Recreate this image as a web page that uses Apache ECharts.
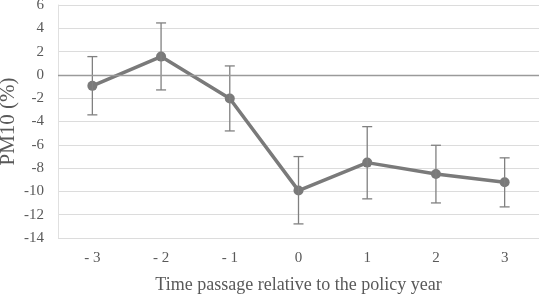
<!DOCTYPE html>
<html>
<head>
<meta charset="utf-8">
<script src="https://cdn.jsdelivr.net/npm/echarts@6/dist/echarts.min.js"></script>
<style>
  html, body { margin: 0; padding: 0; background: #fff; }
  #chart { width: 540px; height: 294px; }
</style>
</head>
<body>
<div id="chart"></div>
<script>
// categories (years relative to policy)
const years = ['- 3', '- 2', '- 1', '0', '1', '2', '3']
// mean change in PM10 (%)
const pm10 = [-0.94, 1.57, -2.03, -9.93, -7.53, -8.5, -9.21]
// error bar ends
const upper = [1.57, 4.46, 0.77, -7.01, -4.44, -6.04, -7.12]
const lower = [-3.43, -1.29, -4.81, -12.79, -10.64, -10.99, -11.33]

const gray = '#7a7a7a'
const textColor = '#595959'
const font = 'Liberation Serif'

const chart = echarts.init(document.getElementById('chart'))
chart.setOption({
  animation: false,
  grid: { left: 58, right: 1, top: 5, bottom: 56, outerBoundsMode: 'none' },
  xAxis: {
    type: 'category',
    data: years,
    name: 'Time passage relative to the policy year',
    nameLocation: 'middle',
    nameGap: 38,
    nameMoveOverlap: false,
    nameTextStyle: { fontFamily: font, fontSize: 18, color: textColor },
    axisLine: { show: false },
    axisTick: { show: false },
    axisLabel: { fontFamily: font, fontSize: 15, color: textColor, margin: 13 }
  },
  yAxis: {
    type: 'value',
    min: -14,
    max: 6,
    interval: 2,
    name: 'PM10 (%)',
    nameLocation: 'middle',
    nameGap: 39,
    nameMoveOverlap: false,
    nameTextStyle: { fontFamily: font, fontSize: 21, color: textColor },
    axisLine: { show: true, lineStyle: { color: '#e0e0e0' } },
    axisLabel: { fontFamily: font, fontSize: 15, color: textColor, margin: 14 },
    splitLine: { lineStyle: { color: '#dcdcdc', width: 1 } }
  },
  series: [
    {
      type: 'line',
      data: pm10,
      symbol: 'circle',
      symbolSize: 10,
      lineStyle: { color: gray, width: 3.5 },
      itemStyle: { color: gray },
      z: 3,
      markLine: {
        silent: true,
        symbol: 'none',
        label: { show: false },
        lineStyle: { color: '#9a9a9a', type: 'solid', width: 1.3 },
        data: [{ yAxis: 0 }]
      }
    },
    {
      type: 'custom',
      z: 4,
      data: years.map((y, i) => [i, lower[i], upper[i]]),
      renderItem: function (params, api) {
        const lo = api.coord([api.value(0), api.value(1)])
        const hi = api.coord([api.value(0), api.value(2)])
        const w = 5
        const style = { stroke: '#808080', lineWidth: 1.3 }
        return {
          type: 'group',
          children: [
            { type: 'line', shape: { x1: lo[0], y1: lo[1], x2: hi[0], y2: hi[1] }, style },
            { type: 'line', shape: { x1: hi[0] - w, y1: hi[1], x2: hi[0] + w, y2: hi[1] }, style },
            { type: 'line', shape: { x1: lo[0] - w, y1: lo[1], x2: lo[0] + w, y2: lo[1] }, style }
          ]
        }
      }
    }
  ]
})
</script>
</body>
</html>
